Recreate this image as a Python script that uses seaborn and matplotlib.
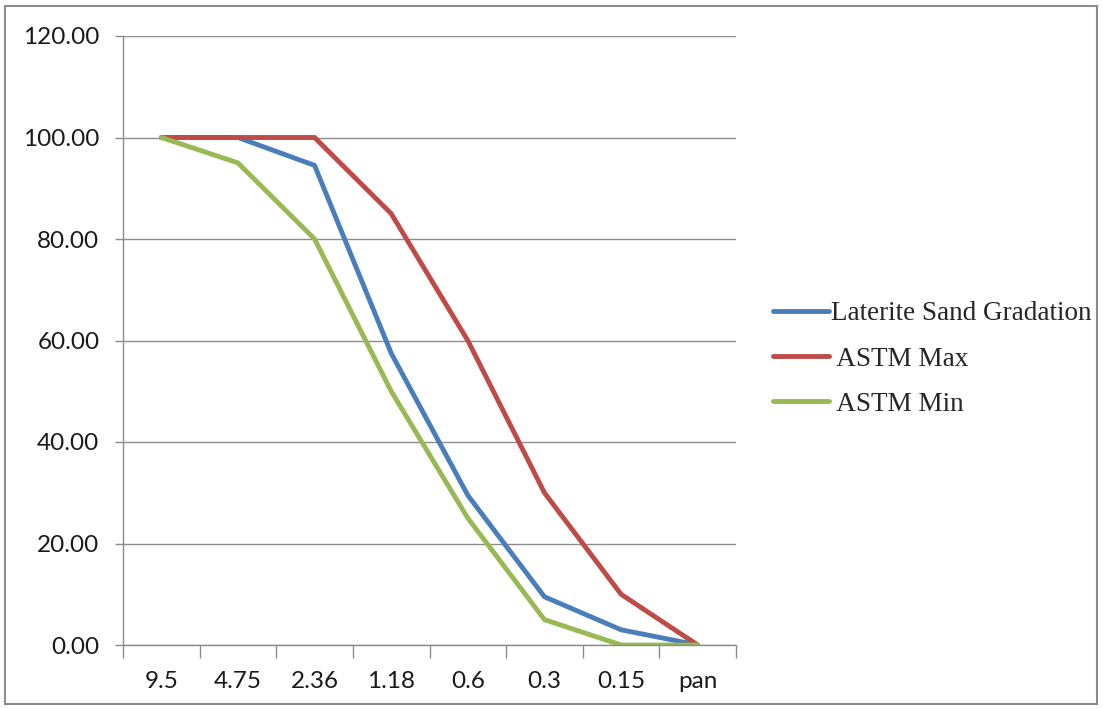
import matplotlib
matplotlib.use("Agg")
import matplotlib.pyplot as plt
import seaborn as sns
import pandas as pd
from matplotlib.patches import Rectangle

sieve_sizes = ["9.5", "4.75", "2.36", "1.18", "0.6", "0.3", "0.15", "pan"]
laterite = [100, 100, 94.5, 57.5, 29.5, 9.5, 3.0, 0.0]
astm_max = [100, 100, 100, 85, 60, 30, 10, 0]
astm_min = [100, 95, 80, 50, 25, 5, 0, 0]
series_names = ["Laterite Sand Gradation", "ASTM Max", "ASTM Min"]
legend_labels = ["Laterite Sand Gradation", " ASTM Max", " ASTM Min"]
y_ticks = [0, 20, 40, 60, 80, 100, 120]

rows = []
for name, vals in zip(series_names, [laterite, astm_max, astm_min]):
    for i, (s, v) in enumerate(zip(sieve_sizes, vals)):
        rows.append({"pos": i, "Sieve": s, "Passing": v, "Series": name})
df = pd.DataFrame(rows)

sns.set_theme(style="white")
plt.rcParams["font.family"] = ["Lato", "DejaVu Sans"]

fig = plt.figure(figsize=(11.03, 7.09), dpi=100)
ax = fig.add_axes([123 / 1103, 1 - 645 / 709, (736 - 123) / 1103, (645 - 36) / 709])

palette = {"Laterite Sand Gradation": "#4A7EBB", "ASTM Max": "#BE4B48", "ASTM Min": "#98B954"}
sns.lineplot(data=df, x="pos", y="Passing", hue="Series", palette=palette,
             linewidth=3.5, ax=ax, legend=False, sort=False)

ax.set_xlim(-0.5, len(sieve_sizes) - 0.5)
ax.set_ylim(0, 120)
ax.set_yticks(y_ticks)
ax.set_yticklabels([f"{v:.2f}" for v in y_ticks])
ax.set_xticks(range(len(sieve_sizes)))
ax.set_xticklabels(sieve_sizes)
ax.set_xticks([i - 0.5 for i in range(len(sieve_sizes) + 1)], minor=True)
ax.set_xlabel("")
ax.set_ylabel("")

ax.grid(axis="y", color="#8c8c8c", linewidth=1.0)
ax.set_axisbelow(True)
for side in ["top", "right"]:
    ax.spines[side].set_visible(False)
for side in ["left", "bottom"]:
    ax.spines[side].set_color("#8c8c8c")
    ax.spines[side].set_linewidth(1.0)

ax.tick_params(axis="y", which="major", length=6, width=1, color="#8c8c8c",
               direction="out", pad=11, labelsize=17.5, labelcolor="#1a1a1a", left=True)
ax.tick_params(axis="x", which="major", length=0, pad=19, labelsize=17.5, labelcolor="#1a1a1a")
ax.tick_params(axis="x", which="minor", length=9, width=1, color="#8c8c8c",
               direction="out", bottom=True)

# legend
handles = [plt.Line2D([], [], color=palette[n], linewidth=3.5) for n in series_names]
leg = fig.legend(handles, legend_labels, loc="center left",
                 bbox_to_anchor=(773 / 1103, 1 - 359 / 709), frameon=False,
                 prop={"family": "Liberation Serif", "size": 19.5},
                 handlelength=2.05, handletextpad=0.08, labelspacing=0.75,
                 borderpad=0, borderaxespad=0)

# outer frame
fig.patches.append(Rectangle((5 / 1103, 5 / 709), 1 - 11 / 1103, 1 - 11 / 709,
                             transform=fig.transFigure, fill=False,
                             edgecolor="#8c8c8c", linewidth=1.5))

fig.savefig("out.png", dpi=100)
